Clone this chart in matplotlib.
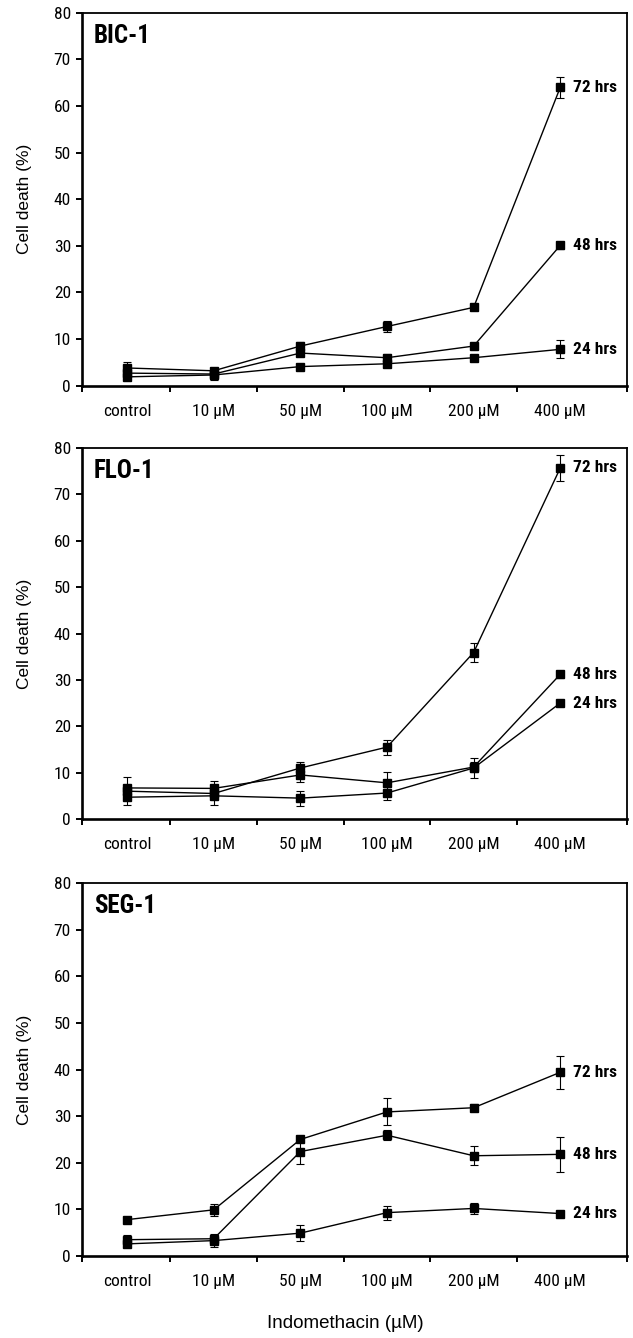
"""Indomethacin dose response: cell death at 24/48/72 hrs for three cell lines."""

import matplotlib

matplotlib.use("Agg")
import matplotlib.pyplot as plt
from matplotlib import font_manager

W, H = 633, 1338
DPI = 100

CATEGORIES = ["control", "10 \u00b5M", "50 \u00b5M", "100 \u00b5M", "200 \u00b5M", "400 \u00b5M"]
TIMES = ["24 hrs", "48 hrs", "72 hrs"]

# BIC-1
bic_24 = [1.9, 2.3, 4.1, 4.7, 6.0, 7.8]
bic_24_err = [0.7, 0.8, 0.4, 0.7, 0.6, 1.9]
bic_48 = [2.7, 2.5, 7.0, 6.0, 8.5, 30.1]
bic_48_err = [0.8, 1.3, 0.7, 0.8, 0.4, 0.8]
bic_72 = [3.8, 3.2, 8.5, 12.7, 16.8, 64.0]
bic_72_err = [1.3, 0.5, 0.9, 1.2, 0.6, 2.3]

# FLO-1
flo_24 = [4.7, 5.0, 4.5, 5.6, 11.0, 25.0]
flo_24_err = [1.7, 2.0, 1.6, 1.4, 2.1, 0.4]
flo_48 = [6.7, 6.6, 9.5, 7.8, 11.2, 31.2]
flo_48_err = [2.4, 1.7, 1.5, 2.3, 1.0, 0.8]
flo_72 = [6.0, 5.5, 11.0, 15.5, 35.9, 75.7]
flo_72_err = [1.0, 1.0, 1.2, 1.6, 2.1, 2.8]

# SEG-1
seg_24 = [2.6, 3.3, 4.9, 9.3, 10.2, 9.1]
seg_24_err = [0.6, 1.4, 1.7, 1.5, 1.1, 0.5]
seg_48 = [3.5, 3.7, 22.4, 25.9, 21.5, 21.8]
seg_48_err = [1.0, 0.8, 2.6, 1.1, 2.0, 3.7]
seg_72 = [7.8, 9.9, 25.0, 30.9, 31.8, 39.4]
seg_72_err = [0.4, 1.3, 0.6, 2.9, 0.7, 3.6]

PANELS = [
    # (title, series, errors, axes top px, axes bottom px)
    ("BIC-1", [bic_24, bic_48, bic_72], [bic_24_err, bic_48_err, bic_72_err], 12.7, 385.7),
    ("FLO-1", [flo_24, flo_48, flo_72], [flo_24_err, flo_48_err, flo_72_err], 448.0, 819.0),
    ("SEG-1", [seg_24, seg_48, seg_72], [seg_24_err, seg_48_err, seg_72_err], 883.0, 1256.0),
]

AX_LEFT, AX_RIGHT = 82, 627
XMIN, XMAX = -0.52, 5.77


def pick_font(*names):
    have = {f.name for f in font_manager.fontManager.ttflist}
    for n in names:
        if n in have:
            return n
    return "DejaVu Sans"


NARROW = pick_font("Liberation Sans Narrow", "Roboto Condensed", "Liberation Sans")
REGULAR = pick_font("Liberation Sans", "Arial", "DejaVu Sans")


def draw_panel(fig, title, series, errors, top, bottom):
    ax = fig.add_axes([AX_LEFT / W, (H - bottom) / H,
                       (AX_RIGHT - AX_LEFT) / W, (bottom - top) / H])
    x = list(range(len(CATEGORIES)))
    for vals, errs in zip(series, errors):
        ax.errorbar(x, vals, yerr=errs, color="black", linewidth=1.0,
                    marker="s", markersize=5.5, elinewidth=0.8, capsize=2.6,
                    capthick=0.8)

    for label, vals in zip(TIMES, series):
        ax.annotate(label, (x[-1], vals[-1]), xytext=(9, 0),
                    textcoords="offset points", va="center", ha="left",
                    fontsize=12.5, fontweight="bold", family=NARROW)

    ax.set_xlim(XMIN, XMAX)
    ax.set_ylim(0, 80)
    ax.set_yticks(range(0, 81, 10))
    ax.set_xticks([XMIN, 0.5, 1.5, 2.5, 3.5, 4.5, XMAX])
    ax.set_xticklabels([])
    ax.set_xticks(x, minor=True)
    ax.set_xticklabels(CATEGORIES, minor=True, family=NARROW, fontsize=12.5)
    ax.tick_params(axis="x", which="minor", length=0, pad=13)
    ax.tick_params(axis="x", which="major", direction="out", length=4,
                   width=1.4)
    ax.tick_params(axis="y", direction="out", length=4, width=1.4, pad=4,
                   labelsize=12.5)
    for lab in ax.get_yticklabels():
        lab.set_family(NARROW)
    for side in ("left", "bottom"):
        ax.spines[side].set_linewidth(1.9)
    for side in ("top", "right"):
        ax.spines[side].set_linewidth(1.3)

    ax.text(0.022, 0.938, title, transform=ax.transAxes, ha="left",
            va="center", fontsize=18, fontweight="bold", family=NARROW)

    fig.text(24 / W, 1 - (top + bottom) / 2 / H, "Cell death (%)",
             rotation=90, ha="center", va="center", fontsize=12.5,
             family=REGULAR)
    return ax


def main():
    fig = plt.figure(figsize=(W / DPI, H / DPI), dpi=DPI)
    fig.set_facecolor("white")
    for title, series, errors, top, bottom in PANELS:
        draw_panel(fig, title, series, errors, top, bottom)
    fig.text(345 / W, 1 - 1323 / H, "Indomethacin (\u00b5M)", ha="center",
             va="center", fontsize=13.5, family=REGULAR)
    fig.savefig("out.png", dpi=DPI, facecolor="white")
    plt.close(fig)


if __name__ == "__main__":
    main()
